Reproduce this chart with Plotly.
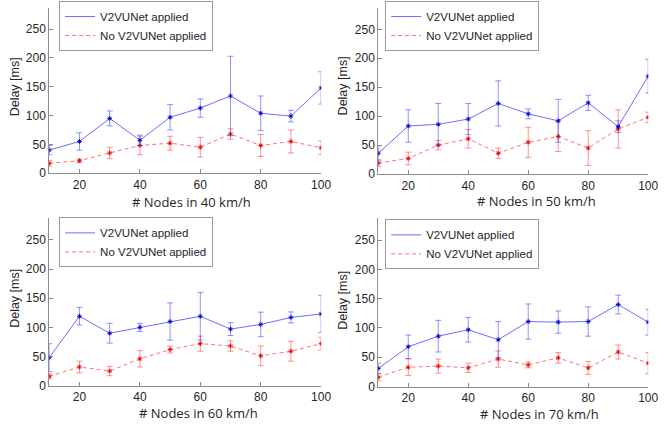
import plotly.graph_objects as go
from plotly.subplots import make_subplots

nodes = [10, 20, 30, 40, 50, 60, 70, 80, 90, 100]
speeds = ["40", "50", "60", "70"]

# V2VUNet applied (mean, error)
v2v_40 = [40, 55, 95, 57, 97, 113, 134, 104, 99, 148]
v2v_40_err = [8, 15, 13, 9, 22, 16, 69, 30, 10, 28]
v2v_50 = [36, 83, 86, 95, 122, 104, 92, 123, 82, 169]
v2v_50_err = [13, 28, 36, 27, 39, 8.5, 37, 13, 10, 29]
v2v_60 = [48, 119, 90, 100, 110, 119, 97, 105, 117, 123]
v2v_60_err = [24, 15, 17, 7, 32, 41, 11, 21, 9.5, 32]
v2v_70 = [31, 68, 86, 97, 80, 111, 110, 111, 140, 110]
v2v_70_err = [9, 20, 27, 21, 31, 30, 19, 25, 16, 22]

# No V2VUNet applied (mean, error)
no_40 = [17, 21.5, 35, 48, 52, 45, 68, 48, 55, 44]
no_40_err = [5, 3, 10, 16, 12, 17, 9, 19, 20, 12]
no_50 = [19, 27, 50, 61, 36, 55, 65, 45, 78, 98]
no_50_err = [6, 11, 8, 16, 9, 26, 26, 30, 33, 9]
no_60 = [16, 32, 25, 46, 62, 72, 68, 51, 59, 72]
no_60_err = [4.5, 10, 8, 14, 6, 13, 9, 17, 17, 11]
no_70 = [16, 33, 35, 32, 47, 37, 49, 32, 59, 40]
no_70_err = [6, 14, 12, 8, 14, 5, 9, 11, 12, 18]

v2v = [v2v_40, v2v_50, v2v_60, v2v_70]
v2v_err = [v2v_40_err, v2v_50_err, v2v_60_err, v2v_70_err]
nov = [no_40, no_50, no_60, no_70]
nov_err = [no_40_err, no_50_err, no_60_err, no_70_err]

x_ticks = [20, 40, 60, 80, 100]
y_ticks = [0, 50, 100, 150, 200, 250]

W, H = 670, 430
BLUE_LINE = "rgba(40,40,255,0.68)"
BLUE_ERR = "rgba(40,40,255,0.5)"
BLUE_MK = "rgba(0,0,210,0.9)"
RED_LINE = "rgba(255,40,40,0.65)"
RED_ERR = "rgba(255,40,40,0.5)"
RED_MK = "rgba(235,0,0,0.9)"

fig = make_subplots(rows=2, cols=2)

# pixel layout: (left, right, top, bottom)
boxes = [(50, 326, 8, 176), (384, 658, 8, 177), (50, 326, 222, 392), (384, 658, 222, 393)]
legend_pos = [(60, 1), (391, 1), (60, 221), (391, 223)]
xtitle_pos = [(194, 205), (545, 204), (201, 420), (548, 421)]
ytitle_pos = [(15, 88), (348, 87), (15, 303), (348, 305)]

tfont = dict(family="Liberation Sans, Arial", size=12, color="#262626")

for i in range(4):
    r, c = i // 2 + 1, i % 2 + 1
    lg = "legend" if i == 0 else f"legend{i+1}"
    # legend-only line samples
    fig.add_trace(go.Scatter(x=[None], y=[None], mode="lines", name="V2VUNet applied",
                             line=dict(color=BLUE_LINE, width=1), legend=lg, showlegend=True), row=r, col=c)
    fig.add_trace(go.Scatter(x=[None], y=[None], mode="lines", name="No V2VUNet applied",
                             line=dict(color=RED_LINE, width=1, dash="4px,3px"), legend=lg, showlegend=True), row=r, col=c)
    fig.add_trace(go.Scatter(x=nodes, y=nov[i], mode="lines+markers", showlegend=False,
                             line=dict(color=RED_LINE, width=1, dash="4px,3px"),
                             marker=dict(symbol="asterisk-open", size=4, color=RED_MK, line=dict(width=1, color=RED_MK)),
                             error_y=dict(type="data", array=nov_err[i], color=RED_ERR, thickness=1, width=3)),
                  row=r, col=c)
    fig.add_trace(go.Scatter(x=nodes, y=v2v[i], mode="lines+markers", showlegend=False,
                             line=dict(color=BLUE_LINE, width=1),
                             marker=dict(symbol="asterisk-open", size=4, color=BLUE_MK, line=dict(width=1, color=BLUE_MK)),
                             error_y=dict(type="data", array=v2v_err[i], color=BLUE_ERR, thickness=1, width=3)),
                  row=r, col=c)

    L, R, T, B = boxes[i]
    xa = "xaxis" if i == 0 else f"xaxis{i+1}"
    ya = "yaxis" if i == 0 else f"yaxis{i+1}"
    fig.layout[xa].update(domain=[L / W, R / W], range=[10, 100], tickvals=x_ticks,
                          showline=True, linecolor="#8c8c8c", linewidth=1, mirror=False,
                          ticks="inside", ticklen=4, tickcolor="#8c8c8c", showgrid=False, zeroline=False,
                          tickfont=tfont)
    fig.layout[ya].update(domain=[(H - B) / H, (H - T) / H], range=[0, 287], tickvals=y_ticks,
                          showline=True, linecolor="#8c8c8c", linewidth=1, mirror=False,
                          ticks="inside", ticklen=4, tickcolor="#8c8c8c", showgrid=False, zeroline=False,
                          tickfont=tfont)

    lx, ly = legend_pos[i]
    fig.layout[lg] = dict(x=lx / W, y=(H - ly) / H, xanchor="left", yanchor="top",
                          bgcolor="white", bordercolor="#9a9a9a", borderwidth=1,
                          font=dict(family="Liberation Sans, Arial", size=11.5, color="#262626"),
                          tracegroupgap=0, itemwidth=30)

    tx, ty = xtitle_pos[i]
    fig.add_annotation(text=f"# Nodes in {speeds[i]} km/h", x=tx / W, y=(H - ty) / H,
                       xref="paper", yref="paper", showarrow=False, xanchor="center", yanchor="middle",
                       font=dict(family="Open Sans", size=13, color="#262626"))
    yx, yy = ytitle_pos[i]
    fig.add_annotation(text="Delay [ms]", x=yx / W, y=(H - yy) / H, textangle=-90,
                       xref="paper", yref="paper", showarrow=False, xanchor="center", yanchor="middle",
                       font=dict(family="Liberation Sans, Arial", size=12.5, color="#262626"))

fig.update_layout(width=W, height=H, margin=dict(l=0, r=0, t=0, b=0),
                  paper_bgcolor="white", plot_bgcolor="white")

fig.write_html("out.html")
